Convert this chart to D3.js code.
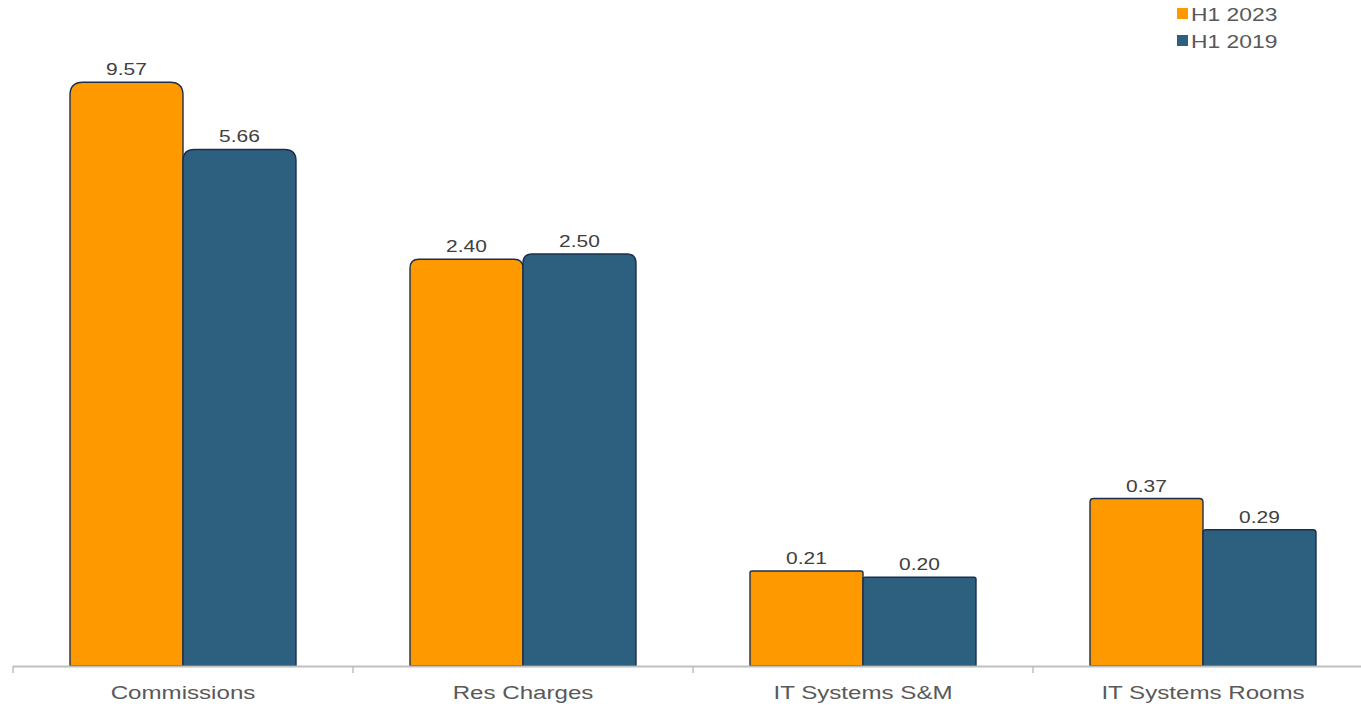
<!DOCTYPE html>
<html>
<head>
<meta charset="utf-8">
<script src="https://cdn.jsdelivr.net/npm/d3@7"></script>
<style>
  html, body { margin: 0; padding: 0; background: #fff; }
  svg { display: block; font-family: "Liberation Sans", Arial, sans-serif; }
</style>
</head>
<body>
<svg id="chart" width="1361" height="707"></svg>
<script>
const categories = ["Commissions", "Res Charges", "IT Systems S&M", "IT Systems Rooms"];
const seriesNames = ["H1 2023", "H1 2019"];
const h1_2023 = [9.57, 2.40, 0.21, 0.37];
const h1_2019 = [5.66, 2.50, 0.20, 0.29];
const colors = ["#FF9900", "#2D5F7E"];

const svg = d3.select("#chart");
const baseY = 666;
const textStretch = 1.27; // wide lettering
const x0 = d3.scaleBand().domain(categories).range([13, 1373]).paddingInner(0).paddingOuter(0);
const x1 = d3.scaleBand().domain(seriesNames).range([0, 226]);
// logarithmic value axis from 0.1 up to 10
const y = d3.scaleLog().domain([0.1, 10]).range([baseY, 76.6]);

const data = categories.map((c, i) => ({cat: c, vals: [h1_2023[i], h1_2019[i]]}));

function topRounded(x, yTop, w, h, r) {
  r = Math.min(r, w / 2, h);
  return `M${x},${yTop + h}V${yTop + r}Q${x},${yTop} ${x + r},${yTop}H${x + w - r}Q${x + w},${yTop} ${x + w},${yTop + r}V${yTop + h}Z`;
}

function place(sel, fx, fy) {
  return sel.attr("transform", (d, i) => `translate(${fx(d, i)},${fy(d, i)}) scale(${textStretch},1)`);
}

const groups = svg.selectAll("g.grp").data(data).join("g")
  .attr("class", "grp")
  .attr("transform", d => `translate(${x0(d.cat) + (x0.bandwidth() - 226) / 2},0)`);

groups.selectAll("path").data(d => d.vals.map((v, j) => ({v, s: seriesNames[j], j})))
  .join("path")
  .attr("d", d => {
    const yt = y(d.v), h = baseY - yt;
    return topRounded(x1(d.s), yt, x1.bandwidth(), h, h * 0.022);
  })
  .attr("fill", d => colors[d.j])
  .attr("stroke", "#1C2E4E")
  .attr("stroke-width", 1.4);

groups.selectAll("text.val").data(d => d.vals.map((v, j) => ({v, s: seriesNames[j]})))
  .join("text")
  .attr("class", "val")
  .call(place, d => x1(d.s) + x1.bandwidth() / 2, d => y(d.v) - 7)
  .attr("text-anchor", "middle")
  .attr("font-size", 16.5)
  .attr("fill", "#404040")
  .text(d => d3.format(".2f")(d.v));

// category axis
const axis = svg.append("g");
axis.append("line").attr("x1", 13).attr("x2", 1361).attr("y1", baseY + 0.5).attr("y2", baseY + 0.5)
  .attr("stroke", "#BFBFBF").attr("stroke-width", 2);
axis.selectAll("line.tick").data(categories).join("line")
  .attr("class", "tick")
  .attr("x1", d => x0(d)).attr("x2", d => x0(d)).attr("y1", baseY).attr("y2", baseY + 7)
  .attr("stroke", "#BFBFBF").attr("stroke-width", 1.5);
axis.selectAll("text").data(categories).join("text")
  .call(place, d => x0(d) + x0.bandwidth() / 2, () => 699)
  .attr("text-anchor", "middle").attr("font-size", 19).attr("fill", "#595959").text(d => d);

// legend
const legend = svg.append("g").attr("transform", "translate(1177,0)");
legend.selectAll("rect").data(seriesNames).join("rect")
  .attr("x", 0).attr("y", (d, i) => 8 + i * 27).attr("width", 11).attr("height", 11)
  .attr("fill", (d, i) => colors[i]);
legend.selectAll("text").data(seriesNames).join("text")
  .call(place, () => 14, (d, i) => 21 + i * 27)
  .attr("font-size", 18).attr("fill", "#595959").text(d => d);
</script>
</body>
</html>
